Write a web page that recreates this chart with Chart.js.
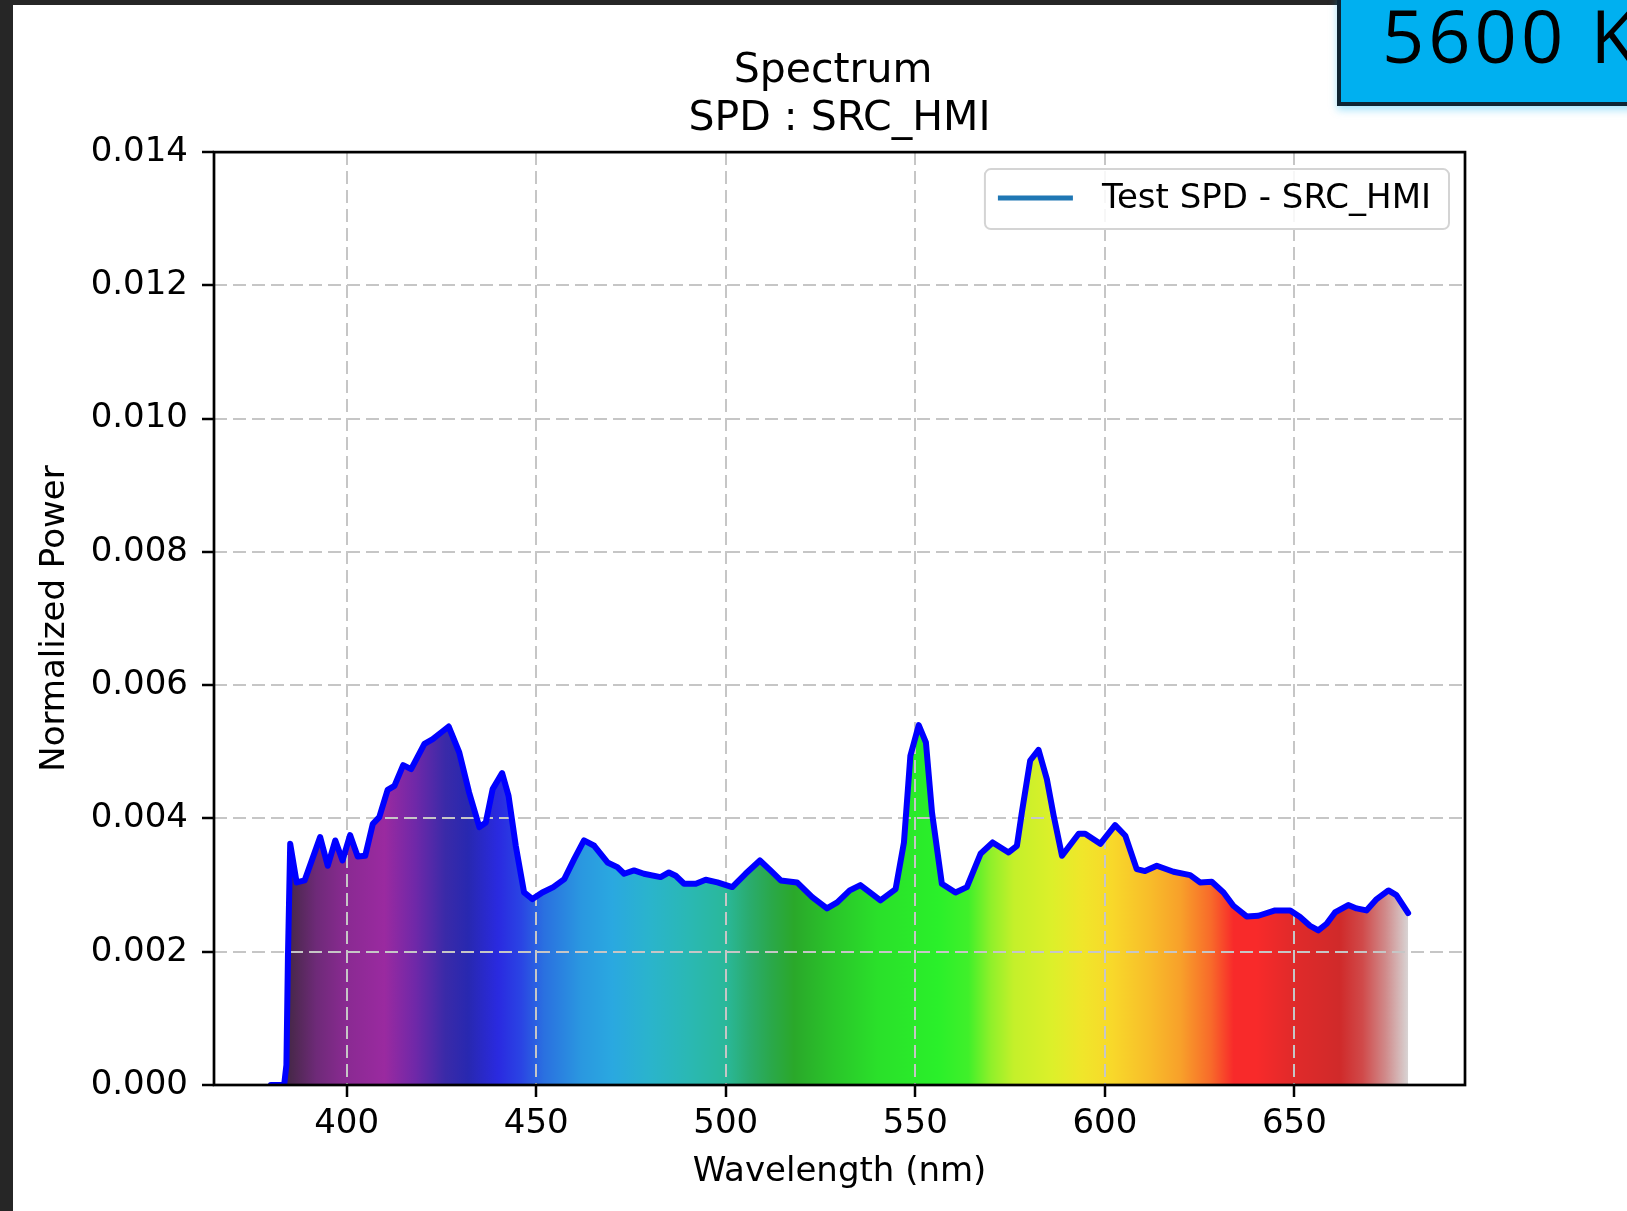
<!DOCTYPE html>
<html>
<head>
<meta charset="utf-8">
<title>Spectrum SPD : SRC_HMI</title>
<script src="https://cdn.jsdelivr.net/npm/chart.js@4.4.0/dist/chart.umd.min.js"></script>
<style>
  html, body { margin: 0; padding: 0; width: 1627px; height: 1211px; overflow: hidden; background: #262626; }
  #sheet { position: absolute; left: 13px; top: 5px; width: 1614px; height: 1206px; background: #ffffff; }
  #badge {
    position: absolute; left: 1337px; top: -6px; width: 330px; height: 112px;
    box-sizing: border-box; background: #00b0f0; border: 4px solid #0e2433;
    box-shadow: 0 4px 8px rgba(0, 176, 240, 0.35);
  }
  #badge span {
    position: absolute; left: 41px; top: 0px; white-space: nowrap;
    font: 400 74px/74px "Open Sans", sans-serif; letter-spacing: 4px; color: #000;
  }
</style>
</head>
<body>
<div id="sheet"><canvas id="spdChart"></canvas></div>
<div id="badge"><span>5600 K</span></div>
<script>
// スペクトル (SPD) の描画

// ---------- データ ----------

// 波長 (nm)
const wavelengths = [
  380, 383.5, 384.1, 384.5, 385.1, 386.8, 388.9, 393.0, 395.0, 397.0,
  398.9, 400.9, 402.9, 404.9, 406.9, 408.6, 410.8, 412.6, 414.9, 417.0,
  420.5, 422.7, 424.9, 426.9, 429.7, 432.3, 435.0, 436.7, 438.5, 441.0,
  442.7, 444.6, 446.8, 449.0, 451.6, 454.5, 457.4, 460.0, 462.6, 465.3,
  468.8, 471.4, 473.2, 475.8, 478.4, 482.8, 485.0, 486.8, 489.0, 492.1,
  494.7, 497.8, 501.7, 505.2, 509.0, 511.8, 514.5, 518.8, 522.8, 526.7,
  529.4, 532.7, 535.5, 540.8, 544.8, 547.0, 548.7, 550.9, 552.8, 554.4,
  557.0, 560.6, 563.6, 567.2, 570.4, 574.6, 576.8, 578.1, 580.3, 582.5,
  584.7, 586.5, 588.7, 593.1, 594.8, 598.8, 602.7, 605.4, 608.4, 610.6,
  613.7, 618.1, 622.5, 625.1, 628.2, 631.3, 633.9, 637.4, 640.5, 644.9,
  648.9, 651.5, 654.1, 656.3, 658.5, 660.7, 664.2, 666.4, 669.0, 671.7,
  674.8, 676.9, 680.0
];

// 正規化パワー
const power = [
  0, 0, 0.0003, 0.0019, 0.00362, 0.00304, 0.00307, 0.00372, 0.00329, 0.00367,
  0.00337, 0.00375, 0.00343, 0.00344, 0.00392, 0.00402, 0.00443, 0.00449, 0.00480, 0.00474,
  0.00512, 0.00519, 0.00529, 0.00538, 0.00499, 0.00439, 0.00387, 0.00394, 0.00444, 0.00468,
  0.00434, 0.00359, 0.00289, 0.00279, 0.00289, 0.00297, 0.00309, 0.00339, 0.00367, 0.00359,
  0.00334, 0.00327, 0.00317, 0.00322, 0.00317, 0.00312, 0.00319, 0.00314, 0.00302, 0.00302,
  0.00308, 0.00304, 0.00297, 0.00317, 0.00337, 0.00322, 0.00307, 0.00304, 0.00282, 0.00265,
  0.00274, 0.00292, 0.00300, 0.00277, 0.00294, 0.00364, 0.00494, 0.00540, 0.00514, 0.00409,
  0.00302, 0.00289, 0.00297, 0.00347, 0.00364, 0.00349, 0.00359, 0.00409, 0.00487, 0.00503,
  0.00459, 0.00404, 0.00344, 0.00377, 0.00377, 0.00362, 0.00390, 0.00374, 0.00324, 0.00321,
  0.00329, 0.00320, 0.00315, 0.00304, 0.00305, 0.00289, 0.00269, 0.00253, 0.00254, 0.00262,
  0.00262, 0.00252, 0.00239, 0.00232, 0.00242, 0.00259, 0.00270, 0.00265, 0.00262, 0.00279,
  0.00292, 0.00285, 0.00258
];

const xTicks = [400, 450, 500, 550, 600, 650];
const yTicks = [0, 0.002, 0.004, 0.006, 0.008, 0.010, 0.012, 0.014];

// 塗りつぶしの色（波長ごとの色）
const stopWavelengths = [
  385, 392, 400, 410, 418, 426, 432, 440, 446, 452,
  462, 470, 480, 490, 500, 506, 512, 518, 528, 540,
  556, 564, 570, 576, 586, 594, 602, 612, 620, 628,
  634, 640, 650, 662, 668, 674, 680
];
const stopColors = [
  '#48284a', '#6e2a78', '#8a2a92', '#9a2aa0', '#7028a8', '#3a2aa8', '#2828b0', '#2a2ae0', '#2a44e4', '#2a70e0',
  '#2a98e0', '#2aa8e0', '#2ab4cc', '#2ab8b4', '#2ab89a', '#2aac70', '#2aa84a', '#2aa82a', '#2ac42a', '#2ae02a',
  '#2af02a', '#40f02a', '#90f02a', '#c4f02a', '#dcf02a', '#f0e62a', '#f8d82a', '#f8bc2a', '#f8a02a', '#f86a2a',
  '#f82a2a', '#f82a2a', '#e02a2a', '#d02a2a', '#d04a4a', '#d08a8a', '#d8d4d4'
];

const FONT = '"DejaVu Sans", sans-serif';

// ---------- 共通 ----------

function spectrumGradient(context) {
  const chart = context.chart;
  const { chartArea, scales } = chart;
  if (!chartArea || !scales.x) {
    return 'rgba(0, 0, 0, 0)';
  }
  const first = stopWavelengths[0];
  const last = stopWavelengths[stopWavelengths.length - 1];
  const x0 = scales.x.getPixelForValue(first);
  const x1 = scales.x.getPixelForValue(last);
  const g = chart.ctx.createLinearGradient(x0, 0, x1, 0);
  stopWavelengths.forEach((w, i) => {
    g.addColorStop((w - first) / (last - first), stopColors[i]);
  });
  return g;
}

// 四辺の枠線（matplotlib の spines 相当）
const axesFrame = {
  id: 'axesFrame',
  afterDatasetsDraw(chart) {
    const { ctx, chartArea } = chart;
    ctx.save();
    ctx.strokeStyle = '#000';
    ctx.lineWidth = 2.7;
    ctx.strokeRect(chartArea.left, chartArea.top, chartArea.right - chartArea.left, chartArea.bottom - chartArea.top);
    ctx.restore();
  }
};

// 凡例（グラフ内の右上に表示）
const insideLegend = {
  id: 'insideLegend',
  afterDraw(chart) {
    const { ctx, chartArea } = chart;
    const label = chart.data.datasets[0].label;
    ctx.save();
    ctx.font = '34px ' + FONT;
    const textW = ctx.measureText(label).width;
    const w = 13 + 75 + 29 + textW + 18;
    const h = 60;
    const x = chartArea.right - 16 - w;
    const y = chartArea.top + 17;

    ctx.beginPath();
    ctx.roundRect(x, y, w, h, 6);
    ctx.fillStyle = 'rgba(255, 255, 255, 0.85)';
    ctx.fill();
    ctx.strokeStyle = '#d4d4d4';
    ctx.lineWidth = 2;
    ctx.stroke();

    ctx.beginPath();
    ctx.moveTo(x + 13, y + h / 2 - 1);
    ctx.lineTo(x + 88, y + h / 2 - 1);
    ctx.strokeStyle = '#1f77b4';
    ctx.lineWidth = 5;
    ctx.stroke();

    ctx.fillStyle = '#000';
    ctx.textBaseline = 'middle';
    ctx.textAlign = 'left';
    ctx.fillText(label, x + 117, y + h / 2);
    ctx.restore();
  }
};

// ---------- グラフ ----------

const spdChart = new Chart(document.getElementById('spdChart'), {
  type: 'line',
  data: {
    datasets: [
      {
        label: 'Test SPD - SRC_HMI',
        data: wavelengths.map((w, i) => ({ x: w, y: power[i] })),
        borderColor: '#0000ff',
        borderWidth: 6,
        borderJoinStyle: 'round',
        borderCapStyle: 'round',
        pointRadius: 0,
        tension: 0,
        fill: 'origin',
        backgroundColor: spectrumGradient
      }
    ]
  },
  options: {
    animation: false,
    responsive: true,
    maintainAspectRatio: false,
    layout: { padding: { left: 0, right: 162, top: 0, bottom: 0 } },
    scales: {
      x: {
        type: 'linear',
        min: 365,
        max: 695,
        afterBuildTicks: (axis) => { axis.ticks = xTicks.map((v) => ({ value: v })); },
        afterFit: (axis) => { axis.height = 126; },
        ticks: {
          color: '#000',
          font: { family: FONT, size: 34 },
          padding: 7,
          maxRotation: 0,
          autoSkip: false,
          callback: (v) => String(v)
        },
        grid: { color: '#c6c6c6', lineWidth: 2, tickColor: '#000', tickWidth: 2.5, tickLength: 12 },
        border: { display: false, dash: [13, 6] },
        title: {
          display: true,
          text: 'Wavelength (nm)',
          color: '#000',
          font: { family: FONT, size: 34 },
          padding: { top: 0, bottom: 18 }
        }
      },
      y: {
        min: 0,
        max: 0.014,
        afterBuildTicks: (axis) => { axis.ticks = yTicks.map((v) => ({ value: v })); },
        afterFit: (axis) => { axis.width = 201; },
        ticks: {
          color: '#000',
          font: { family: FONT, size: 34 },
          padding: 14,
          callback: (v) => v.toFixed(3)
        },
        grid: { color: '#c6c6c6', lineWidth: 2, tickColor: '#000', tickWidth: 2.5, tickLength: 12 },
        border: { display: false, dash: [13, 6] },
        title: {
          display: true,
          text: 'Normalized Power',
          color: '#000',
          font: { family: FONT, size: 34 },
          padding: { top: 22, bottom: 0 }
        }
      }
    },
    plugins: {
      legend: { display: false },
      tooltip: { enabled: false },
      filler: { drawTime: 'beforeDraw' },
      title: {
        display: true,
        fullSize: false,
        text: ['Spectrum ', 'SPD : SRC_HMI'],
        color: '#000',
        font: { family: FONT, size: 41, weight: 'normal', lineHeight: 1.16 },
        padding: { top: 43, bottom: 9 }
      }
    }
  },
  plugins: [axesFrame, insideLegend]
});
</script>
</body>
</html>
